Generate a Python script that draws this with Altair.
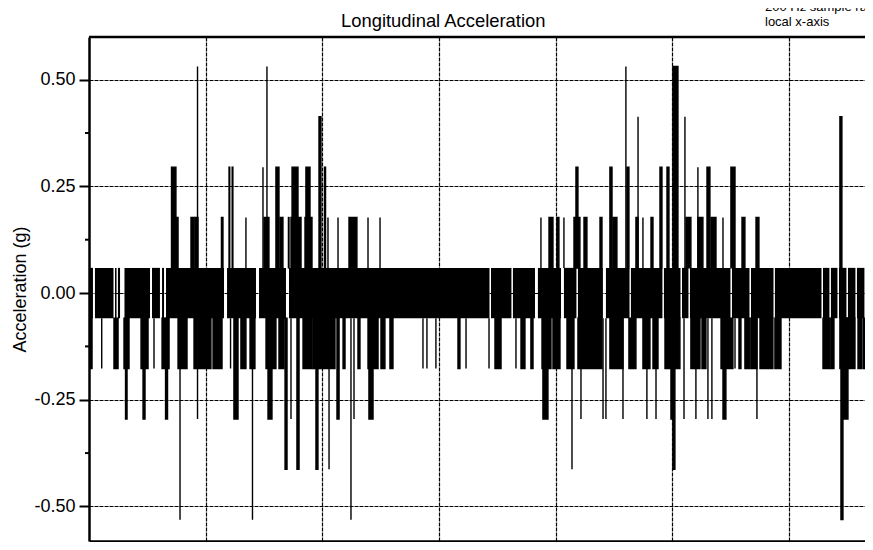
import altair as alt
import pandas as pd

# ---- data (time in s, acceleration in g) ----
x_domain = [0.0, 6.650]
y_domain = [-0.581, 0.600]
y_ticks = [-0.5, -0.25, 0.0, 0.25, 0.5]
y_minor = [-0.375, -0.125, 0.125, 0.375]
x_grid = [1, 2, 3, 4, 5, 6]

band_top = 0.059
band_bottom = -0.059

# dense +/-0.059 oscillation band (start/end of filled stretches)
band_start = [0.000, 0.051, 0.223, 0.248, 0.304, 0.540, 0.626, 0.660, 1.183, 1.457,
              1.714, 3.445, 3.633, 3.847, 4.070, 4.190, 4.430, 4.644, 4.927, 5.082,
              5.150, 5.510, 5.673, 5.878, 6.290, 6.358, 6.427, 6.504, 6.581, 6.658]
band_end = [0.034, 0.210, 0.236, 0.266, 0.523, 0.608, 0.643, 1.157, 1.431, 1.688,
            3.432, 3.620, 3.822, 4.045, 4.177, 4.404, 4.632, 4.914, 5.069, 5.137,
            5.497, 5.660, 5.866, 6.277, 6.345, 6.414, 6.491, 6.568, 6.645, 6.718]

# positive excursions
up_start = [0.707, 0.728, 0.874, 0.930, 0.908, 1.135, 1.200, 1.227, 1.345, 1.491,
            1.500, 1.525, 1.602, 1.637, 1.709, 1.740, 1.731, 1.859, 1.851, 1.971,
            2.018, 2.048, 2.134, 2.228, 2.391, 2.494,
            3.873, 3.942, 4.010, 4.070, 4.156, 4.173, 4.242, 4.379, 4.464, 4.490,
            4.601, 4.610, 4.687, 4.705, 4.747, 4.816, 4.893, 4.953, 5.004,
            5.107, 5.116, 5.218, 5.218, 5.296, 5.330, 5.433, 5.501, 5.596, 5.716, 6.435]
up_end = [0.745, 0.763, 0.900, 0.930, 0.934, 1.148, 1.206, 1.233, 1.345, 1.491,
          1.542, 1.525, 1.628, 1.662, 1.714, 1.791, 1.817, 1.894, 1.911, 1.988,
          2.027, 2.048, 2.134, 2.296, 2.391, 2.494,
          3.873, 3.976, 4.027, 4.070, 4.207, 4.190, 4.267, 4.396, 4.482, 4.524,
          4.601, 4.627, 4.705, 4.705, 4.747, 4.833, 4.910, 4.970, 5.047,
          5.107, 5.158, 5.218, 5.261, 5.321, 5.373, 5.433, 5.536, 5.621, 5.741, 6.452]
up_peak = [0.295, 0.177, 0.177, 0.531, 0.177, 0.177, 0.295, 0.295, 0.177, 0.295,
           0.177, 0.531, 0.295, 0.177, 0.177, 0.295, 0.177, 0.295, 0.177, 0.413,
           0.295, 0.177, 0.177, 0.177, 0.177, 0.177,
           0.177, 0.177, 0.177, 0.177, 0.177, 0.295, 0.177, 0.177, 0.295, 0.177,
           0.531, 0.295, 0.177, 0.413, 0.177, 0.177, 0.295, 0.295, 0.531,
           0.413, 0.177, 0.295, 0.177, 0.295, 0.177, 0.177, 0.295, 0.177, 0.177, 0.413]

# negative excursions
down_start = [0.000, 0.109, 0.214, 0.300, 0.313, 0.446, 0.463, 0.557, 0.626, 0.656,
              0.763, 0.780, 0.930, 0.900, 1.063, 1.213, 1.242, 1.302, 1.380, 1.401,
              1.517, 1.534, 1.628, 1.680,
              1.731, 1.782, 1.834, 1.919, 1.945, 2.057, 2.125, 2.177, 2.245, 2.271,
              2.305, 2.391, 2.399, 2.502, 2.579, 2.862, 2.896, 2.973, 3.162, 3.231,
              3.428, 3.479, 3.659, 3.702, 3.787, 3.882, 3.890, 3.976, 4.096, 4.139,
              4.190, 4.216, 4.405, 4.430, 4.464, 4.576, 4.627, 4.747, 4.781, 4.833,
              4.859, 4.936, 4.987, 5.004,
              5.099, 5.158, 5.201, 5.253, 5.304, 5.338, 5.416, 5.433, 5.536, 5.570,
              5.621, 5.673, 5.724, 5.750, 5.878, 6.290, 6.358, 6.435, 6.461, 6.444,
              6.504, 6.590, 6.633, 6.692]
down_end = [0.026, 0.109, 0.249, 0.343, 0.326, 0.506, 0.480, 0.557, 0.686, 0.673,
            0.840, 0.780, 0.930, 1.045, 1.140, 1.213, 1.277, 1.345, 1.422, 1.401,
            1.602, 1.568, 1.671, 1.697,
            1.731, 1.800, 1.911, 2.108, 1.962, 2.057, 2.143, 2.194, 2.245, 2.271,
            2.322, 2.477, 2.434, 2.536, 2.605, 2.862, 2.896, 2.973, 3.179, 3.231,
            3.428, 3.531, 3.659, 3.736, 3.805, 3.959, 3.933, 4.036, 4.156, 4.139,
            4.396, 4.216, 4.405, 4.430, 4.576, 4.576, 4.687, 4.807, 4.781, 4.876,
            4.859, 5.064, 5.004, 5.021,
            5.099, 5.236, 5.201, 5.287, 5.304, 5.338, 5.518, 5.458, 5.536, 5.587,
            5.664, 5.724, 5.724, 5.861, 5.930, 6.350, 6.384, 6.504, 6.504, 6.461,
            6.564, 6.620, 6.680, 6.718]
down_peak = [-0.177, -0.177, -0.177, -0.177, -0.295, -0.177, -0.295, -0.177, -0.177, -0.295,
             -0.177, -0.531, -0.295, -0.177, -0.177, -0.177, -0.295, -0.177, -0.177, -0.531,
             -0.177, -0.295, -0.177, -0.413,
             -0.295, -0.413, -0.177, -0.177, -0.413, -0.413, -0.295, -0.177, -0.531, -0.295,
             -0.177, -0.177, -0.295, -0.177, -0.177, -0.177, -0.177, -0.177, -0.177, -0.177,
             -0.177, -0.177, -0.177, -0.177, -0.177, -0.177, -0.295, -0.177, -0.177, -0.413,
             -0.177, -0.295, -0.295, -0.295, -0.177, -0.295, -0.177, -0.177, -0.295, -0.177,
             -0.295, -0.177, -0.295, -0.413,
             -0.295, -0.177, -0.295, -0.177, -0.295, -0.295, -0.177, -0.295, -0.177, -0.177,
             -0.177, -0.177, -0.295, -0.177, -0.177, -0.177, -0.177, -0.177, -0.295, -0.531,
             -0.177, -0.177, -0.177, -0.177]

chart_title = "Longitudinal Acceleration"
notes = ["200 Hz sample rate", "local x-axis"]

# ---- tables ----
band_df = pd.DataFrame({"t0": band_start, "t1": band_end,
                        "lo": [band_bottom] * len(band_start),
                        "hi": [band_top] * len(band_start)})
spike_df = pd.DataFrame({
    "t0": up_start + down_start,
    "t1": up_end + down_end,
    "lo": [band_top] * len(up_start) + down_peak,
    "hi": up_peak + [band_bottom] * len(down_start),
})
minor_df = pd.DataFrame({"lo": y_minor})
frame_df = pd.DataFrame({"t0": [x_domain[0]], "t1": [x_domain[1]], "lo": [y_domain[1]]})
title_df = pd.DataFrame({"note": [chart_title]})
note1_df = pd.DataFrame({"note": [notes[0]]})
note2_df = pd.DataFrame({"note": [notes[1]]})

FONT = "Liberation Sans"
xs = alt.Scale(domain=x_domain, nice=False, zero=False)
ys = alt.Scale(domain=y_domain, nice=False, zero=False)

# bottom axis: grid lines + bottom frame line
x_axis = alt.Axis(values=x_grid, labels=False, ticks=False, domain=True,
                  domainColor="black", domainWidth=2.5, grid=True,
                  gridColor="black", gridWidth=1.2, gridDash=[4, 1], title=None)
y_axis = alt.Axis(values=y_ticks, title="Acceleration (g)",
                  labelExpr="replace(format(datum.value, '.2f'), '\u2212', '-')",
                  domain=True, domainColor="black", domainWidth=2.5,
                  tickSize=10, tickWidth=2, tickColor="black",
                  labelFontSize=18, labelFont=FONT, labelColor="black", labelPadding=4,
                  titleFontSize=18, titleFont=FONT, titleFontWeight="normal",
                  titleColor="black", titlePadding=4,
                  grid=True, gridColor="black", gridWidth=1, gridDash=[4, 1])

band = alt.Chart(band_df).mark_rect(color="black", clip=True).encode(
    x=alt.X("t0:Q", scale=xs, axis=x_axis), x2="t1",
    y=alt.Y("lo:Q", scale=ys, axis=y_axis), y2="hi")

spikes = alt.Chart(spike_df).mark_rect(fill="black", stroke="black", strokeWidth=1.4,
                                       clip=True).encode(
    x=alt.X("t0:Q", scale=xs, axis=x_axis), x2="t1",
    y=alt.Y("lo:Q", scale=ys, axis=y_axis), y2="hi")

# top frame line at the upper end of the y domain
top_frame = alt.Chart(frame_df).mark_rule(color="black", strokeWidth=2.5).encode(
    x=alt.X("t0:Q", scale=xs, axis=x_axis), x2="t1",
    y=alt.Y("lo:Q", scale=ys, axis=y_axis))

minor = alt.Chart(minor_df).mark_rule(color="black", strokeWidth=2).encode(
    y=alt.Y("lo:Q", scale=ys, axis=y_axis), x=alt.value(-4), x2=alt.value(0))

title_mark = alt.Chart(title_df).mark_text(align="left", baseline="alphabetic", fontSize=18.4,
                                           font=FONT, color="black").encode(
    text="note:N", x=alt.value(252), y=alt.value(-10))
note1 = alt.Chart(note1_df).mark_text(align="left", baseline="alphabetic", fontSize=13,
                                       font=FONT, color="black").encode(
    text="note:N", x=alt.value(676), y=alt.value(-26))
note2 = alt.Chart(note2_df).mark_text(align="left", baseline="alphabetic", fontSize=13,
                                       font=FONT, color="black").encode(
    text="note:N", x=alt.value(676), y=alt.value(-11))

chart = alt.layer(band, spikes, top_frame, minor, title_mark, note1, note2).properties(
    width=776, height=504,
    background="white",
    autosize=alt.AutoSizeParams(type="none"),
    padding={"left": 81, "top": 29, "right": 0, "bottom": 1},
).configure_view(stroke=None)

chart.save("out.html", embed_options={"renderer": "svg", "actions": False})
